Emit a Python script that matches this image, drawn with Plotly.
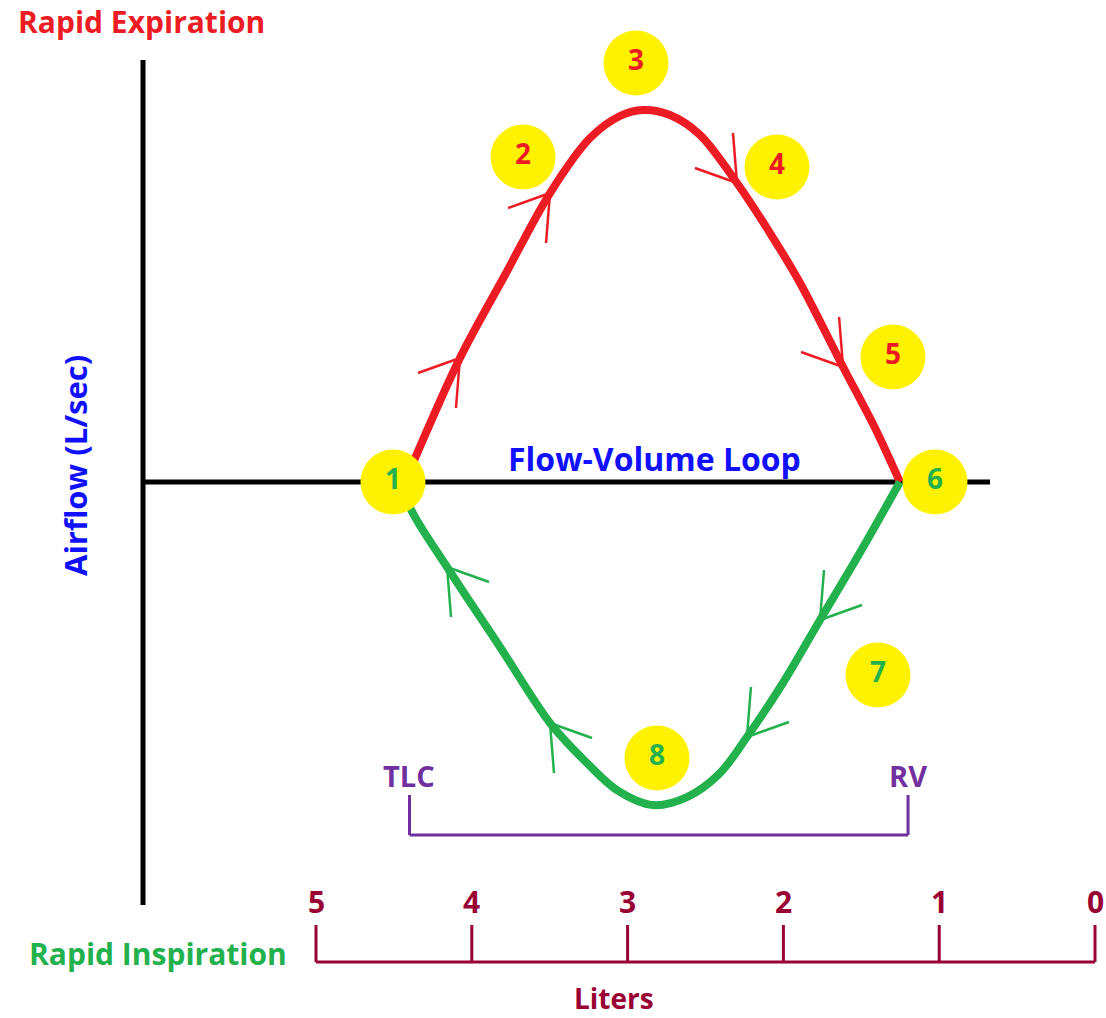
import plotly.graph_objects as go

# ---------------- data (volume in liters, flow in L/sec) ----------------
exp_volume = [4.43, 4.076, 3.787, 3.498, 3.241, 3.049, 2.901, 2.728, 2.535, 2.298, 2.086, 1.893, 1.617, 1.412, 1.252]
exp_flow = [0.0, 2.0, 3.339, 4.661, 5.548, 5.903, 6.0, 5.919, 5.597, 4.823, 4.016, 3.210, 1.855, 0.871, 0.0]
insp_volume = [1.252, 1.495, 1.765, 2.003, 2.234, 2.407, 2.619, 2.837, 3.068, 3.261, 3.498, 3.819, 4.159, 4.397, 4.43]
insp_flow = [0.0, -1.080, -2.226, -3.242, -4.113, -4.694, -5.081, -5.210, -4.968, -4.532, -3.887, -2.661, -1.371, -0.403, 0.0]
exp_arrow_idx = [1, 3, 9, 12]
insp_arrow_idx = [2, 4, 10, 12]

point_labels = ["1", "2", "3", "4", "5", "6", "7", "8"]
point_volume = [4.506, 3.671, 2.946, 2.041, 1.297, 1.027, 1.393, 2.811]
point_flow = [0.0, 5.242, 6.758, 5.081, 2.016, 0.0, -3.113, -4.452]
point_phase = ["insp", "exp", "exp", "exp", "exp", "insp", "insp", "insp"]

TLC = 4.4
RV = 1.2
liters_ticks = [5, 4, 3, 2, 1, 0]

# ---------------- styling ----------------
W, H = 1106, 1018
PX_PER_L = 155.8
PX_PER_F = 62.0
X_RANGE = [5 + 316 / PX_PER_L, 5 - (W - 316) / PX_PER_L]
Y_RANGE = [-(H - 482) / PX_PER_F, 482 / PX_PER_F]

RED = "#ED1C24"
GREEN = "#22B14C"
YELLOW = "#FFF200"
BLUE = "#1010FF"
PURPLE = "#7030A0"
MAROON = "#990033"
FONT = "Open Sans"


def sign(v):
    return 1 if v > 0 else (-1 if v < 0 else 0)


def chevrons(vols, flows, idxs):
    xs, ys = [], []
    n = len(vols)
    for i in idxs:
        j0, j1 = max(i - 1, 0), min(i + 1, n - 1)
        dxp = -(vols[j1] - vols[j0]) * PX_PER_L
        dyp = -(flows[j1] - flows[j0]) * PX_PER_F
        sx, sy = sign(dxp), sign(dyp)
        for (ox, oy) in [(-sx * 42, -sy * 15), (-sx * 4, -sy * 50)]:
            xs += [vols[i], vols[i] - ox / PX_PER_L, None]
            ys += [flows[i], flows[i] - oy / PX_PER_F, None]
    return xs, ys


fig = go.Figure()

# loop curves
fig.add_trace(go.Scatter(x=exp_volume, y=exp_flow, mode="lines",
                         line=dict(color=RED, width=8, shape="spline", smoothing=0.9),
                         hoverinfo="skip", showlegend=False))
fig.add_trace(go.Scatter(x=insp_volume, y=insp_flow, mode="lines",
                         line=dict(color=GREEN, width=8, shape="spline", smoothing=0.9),
                         hoverinfo="skip", showlegend=False))

cx, cy = chevrons(exp_volume, exp_flow, exp_arrow_idx)
fig.add_trace(go.Scatter(x=cx, y=cy, mode="lines", line=dict(color=RED, width=2.5),
                         hoverinfo="skip", showlegend=False))
cx, cy = chevrons(insp_volume, insp_flow, insp_arrow_idx)
fig.add_trace(go.Scatter(x=cx, y=cy, mode="lines", line=dict(color=GREEN, width=2.5),
                         hoverinfo="skip", showlegend=False))

# numbered yellow points
fig.add_trace(go.Scatter(
    x=point_volume, y=point_flow, mode="markers+text",
    marker=dict(size=65, color=YELLOW, line=dict(width=0)),
    text=["<b>%s</b>" % t for t in point_labels], textposition="middle center",
    textfont=dict(family=FONT, size=28,
                  color=[RED if p == "exp" else GREEN for p in point_phase]),
    hoverinfo="skip", showlegend=False))

shapes = []
# main axes (black)
axis_x = 5 + (316 - 143) / PX_PER_L
shapes.append(dict(type="line", xref="x", yref="y", x0=axis_x, x1=axis_x,
                   y0=(482 - 60) / PX_PER_F, y1=(482 - 905) / PX_PER_F,
                   line=dict(color="black", width=5), layer="below"))
shapes.append(dict(type="line", xref="x", yref="y", x0=axis_x, x1=5 - (990 - 316) / PX_PER_L,
                   y0=0, y1=0, line=dict(color="black", width=5), layer="below"))

# TLC - RV bracket
br_top = (482 - 795) / PX_PER_F
br_bot = (482 - 835) / PX_PER_F
for v in (TLC, RV):
    shapes.append(dict(type="line", xref="x", yref="y", x0=v, x1=v, y0=br_top, y1=br_bot,
                       line=dict(color=PURPLE, width=3)))
shapes.append(dict(type="line", xref="x", yref="y", x0=TLC, x1=RV, y0=br_bot, y1=br_bot,
                   line=dict(color=PURPLE, width=3)))

# liters axis
lit_y = (482 - 962) / PX_PER_F
tick_top = (482 - 925) / PX_PER_F
shapes.append(dict(type="line", xref="x", yref="y", x0=max(liters_ticks), x1=min(liters_ticks),
                   y0=lit_y, y1=lit_y, line=dict(color=MAROON, width=3)))
for t in liters_ticks:
    shapes.append(dict(type="line", xref="x", yref="y", x0=t, x1=t, y0=lit_y, y1=tick_top,
                       line=dict(color=MAROON, width=3)))

annotations = []


def txt_px(text, px, py, color, size, angle=0):
    annotations.append(dict(text="<b>%s</b>" % text, xref="paper", yref="paper",
                            x=px / W, y=1 - py / H, xanchor="center", yanchor="middle",
                            showarrow=False, textangle=angle,
                            font=dict(family=FONT, size=size, color=color)))


txt_px("Rapid Expiration", 141, 22, RED, 30)
txt_px("Airflow (L/sec)", 75, 466, BLUE, 31, angle=-90)
txt_px("Flow-Volume Loop", 654, 459, BLUE, 32)
txt_px("Rapid Inspiration", 158, 953, GREEN, 30)
txt_px("Liters", 614, 998, MAROON, 28)

for lab, v in (("TLC", TLC), ("RV", RV)):
    annotations.append(dict(text="<b>%s</b>" % lab, xref="x", yref="y", x=v,
                            y=(482 - 775) / PX_PER_F, xanchor="center", yanchor="middle",
                            showarrow=False, font=dict(family=FONT, size=29, color=PURPLE)))
for t in liters_ticks:
    annotations.append(dict(text="<b>%d</b>" % t, xref="x", yref="y", x=t,
                            y=(482 - 901) / PX_PER_F, xanchor="center", yanchor="middle",
                            showarrow=False, font=dict(family=FONT, size=30, color=MAROON)))

fig.update_layout(
    width=W, height=H, autosize=False,
    margin=dict(l=0, r=0, t=0, b=0, pad=0),
    paper_bgcolor="white", plot_bgcolor="white",
    xaxis=dict(range=X_RANGE, visible=False, fixedrange=True),
    yaxis=dict(range=Y_RANGE, visible=False, fixedrange=True),
    shapes=shapes, annotations=annotations, showlegend=False,
)

fig.write_html("out.html", config={"displayModeBar": False, "staticPlot": True},
               post_script="document.body.style.margin='0';document.body.style.overflow='hidden';")
